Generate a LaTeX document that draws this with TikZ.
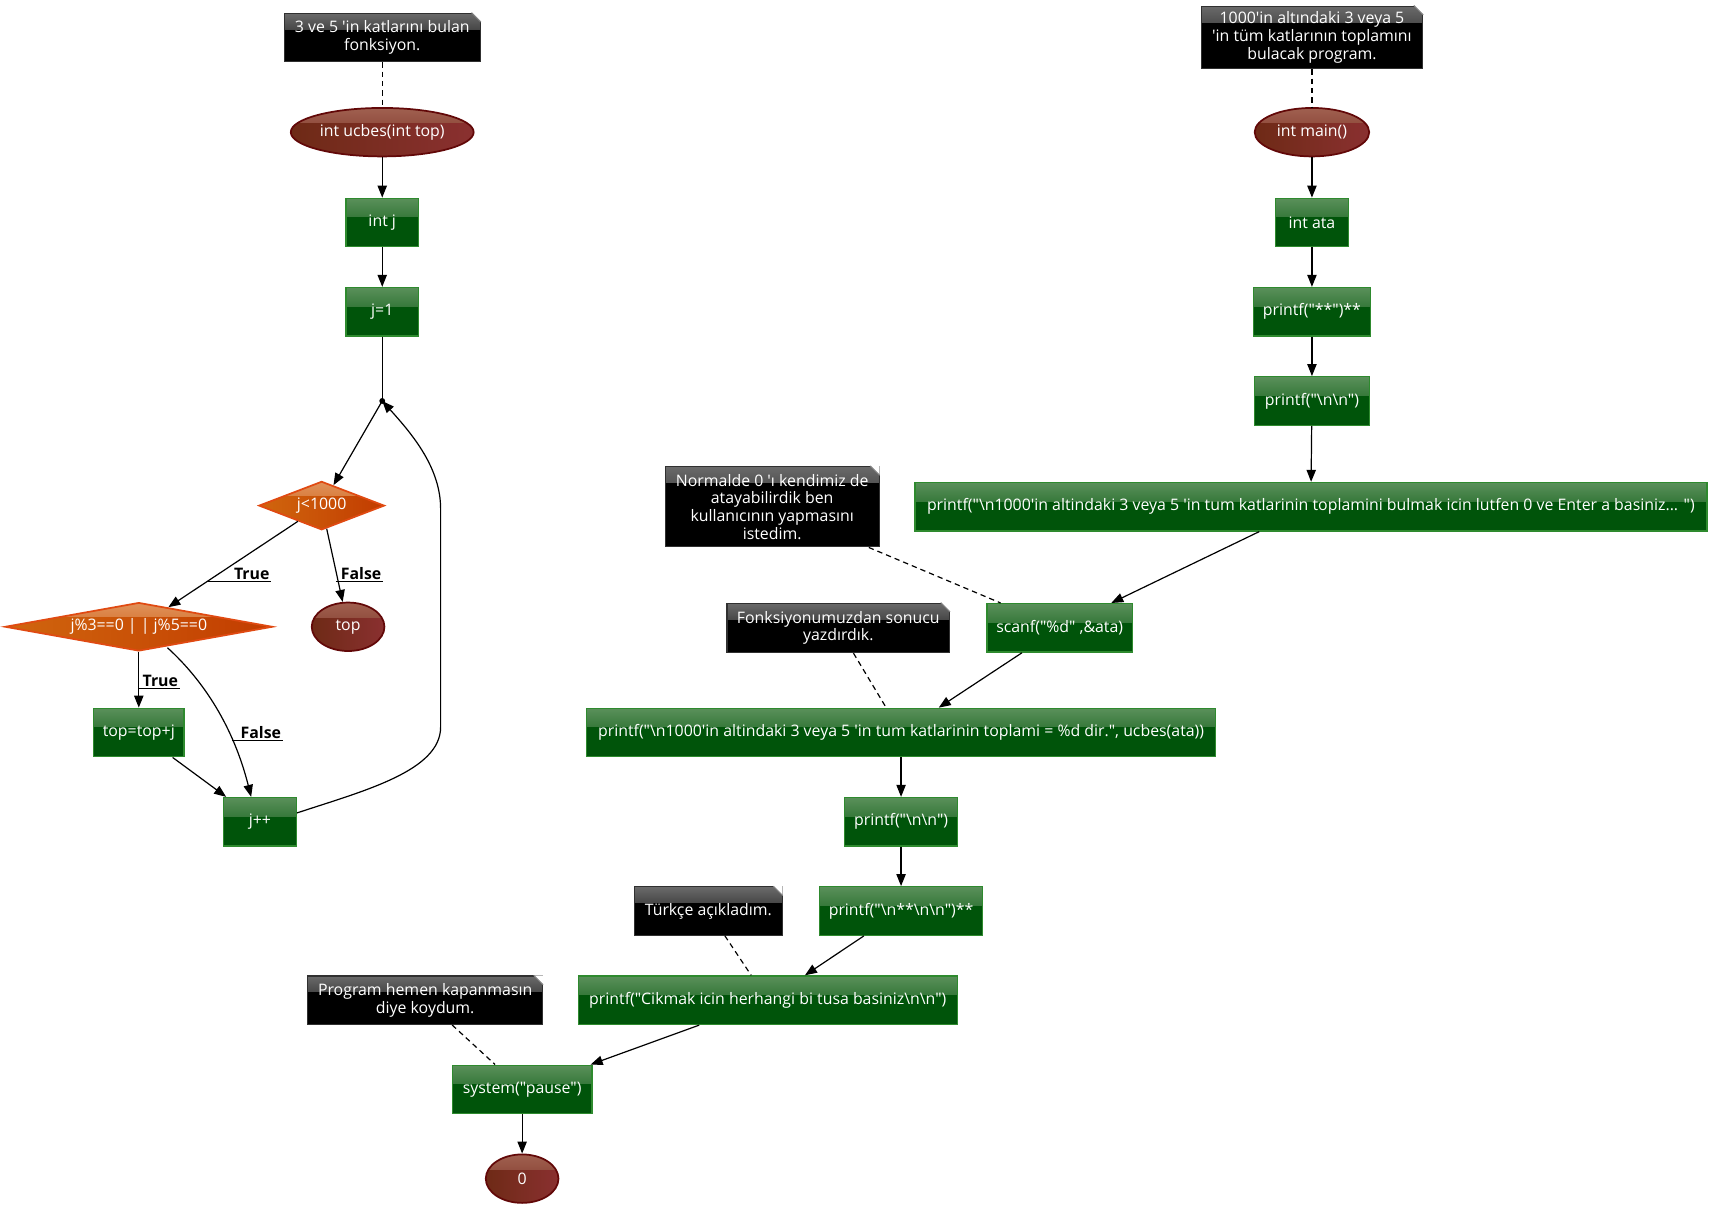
\documentclass[tikz,border=0pt]{standalone}
\usepackage{fontspec}
\setmainfont{Open Sans}[Ligatures=TeXOff]
\usetikzlibrary{shapes.geometric,arrows.meta,calc}
\definecolor{grnfill}{HTML}{00540A}
\definecolor{grnhi}{HTML}{5A905A}
\definecolor{grnline}{HTML}{2E8A2E}
\definecolor{ellL}{HTML}{6E2A16}
\definecolor{ellR}{HTML}{8A3030}
\definecolor{ellhi}{HTML}{A06050}
\definecolor{ellline}{HTML}{620808}
\definecolor{dmL}{HTML}{D0660E}
\definecolor{dmR}{HTML}{C23C00}
\definecolor{dmhi}{HTML}{E0925A}
\definecolor{dmline}{HTML}{E04A12}
\definecolor{notehi}{HTML}{6A6A6A}
\definecolor{noteline}{HTML}{303030}
\newcommand{\bsl}{\textbackslash{}}
\newcommand{\mknote}[6]{%
  \node[notebox, sz={#4}{#5}] (#1) at (#2,#3) {#6};
  \fill[white] ([xshift=-7pt]#1.north east) -- (#1.north east) -- ([yshift=-7pt]#1.north east) -- cycle;
  \draw[notefold] ([xshift=-7pt]#1.north east) -- ([yshift=-7pt]#1.north east);
}
\begin{document}
\begin{tikzpicture}[x=0.8262pt,y=-0.8262pt,
  font=\fontsize{11.9}{13.2}\selectfont,
  sz/.style 2 args={minimum width=#1*0.8262pt, minimum height=#2*0.8262pt, inner sep=0pt},
  box/.style={rectangle, draw=grnline, line width=1pt, fill=grnfill, text=white,
    path picture={\shade[top color=grnhi, bottom color=grnfill]
      (path picture bounding box.north west) rectangle ([yshift=-14pt]path picture bounding box.north east);}},
  term/.style={ellipse, draw=ellline, line width=1.3pt, left color=ellL, right color=ellR, text=white,
    path picture={\shade[top color=ellhi, bottom color=ellL!70!ellR]
      (path picture bounding box.north west) rectangle ([yshift=-11pt]path picture bounding box.north east);}},
  cond/.style={diamond, draw=dmline, line width=1.3pt, left color=dmL, right color=dmR, text=white,
    path picture={\shade[top color=dmhi, bottom color=dmL!60!dmR]
      (path picture bounding box.north west) rectangle ([yshift=-10pt]path picture bounding box.north east);}},
  notebox/.style={rectangle, draw=noteline, line width=0.8pt, fill=black, text=white, align=center,
    path picture={\shade[top color=notehi, bottom color=black]
      (path picture bounding box.north west) rectangle ([yshift=-12pt]path picture bounding box.north east);}},
  notefold/.style={draw=gray, line width=0.8pt},
  arr/.style={draw=black, line width=0.9pt, -{Triangle[length=9pt,width=7pt]}},
  plain/.style={draw=black, line width=0.9pt},
  notelink/.style={draw=black, line width=0.9pt, dash pattern=on 4pt off 3pt},
  lbl/.style={font=\fontsize{11.9}{13}\selectfont\bfseries, text=black, inner sep=1pt, anchor=south west},
  ul/.style={draw=black, line width=0.9pt},
]
\useasboundingbox (0,0) rectangle (1556,1102);

% ---------- left: function ----------
\mknote{n1}{347}{34}{178}{44}{3 ve 5 'in katlarını bulan\\fonksiyon.}
\node[term, sz={166}{44}] (ucbes) at (347,120) {int ucbes(int top)};
\node[box, sz={66}{44}] (intj) at (347,202) {int j};
\node[box, sz={66}{44}] (j1) at (347,283) {j=1};
\coordinate (junc) at (347,364);
\fill[black] (junc) circle (2.2pt);
\node[cond, sz={114}{44}, aspect=2.6] (jlt) at (292,459) {j<1000};
\node[cond, sz={243}{44}, aspect=5.5] (jmod) at (126,569) {j\%3==0 | | j\%5==0};
\node[term, sz={66}{44}] (top) at (316,569) {top};
\node[box, sz={82}{44}] (topadd) at (126,665) {top=top+j};
\node[box, sz={66}{44}] (jinc) at (236,746) {j++};

\draw[notelink] (n1) -- (ucbes);
\draw[arr] (ucbes) -- (intj);
\draw[arr] (intj) -- (j1);
\draw[plain] (j1) -- (junc);
\draw[arr] (junc) -- (jlt);
\draw[arr] (jlt) -- (jmod);
\draw[arr] (jlt) -- (top);
\draw[arr] (jmod) -- (topadd);
\draw[arr] (topadd) -- (jinc);
\draw[arr] ($(jmod.center)+(26,19)$) .. controls (185,618) and (212,660) .. ($(jinc.north)+(-8,0)$);
\draw[arr] ($(jinc.east)+(0,-8)$) .. controls (330,718) and (400,700) .. (400,660)
   -- (400,462) .. controls (400,425) and (375,395) .. (junc);

\node[lbl] (lT1) at (211,528) {True};
\coordinate (uT1) at (189,528);
\draw[ul] (uT1) -- (lT1.south east);
\node[lbl] (lF1) at (308,528) {False};
\coordinate (uF1) at (305,528);
\draw[ul] (uF1) -- (lF1.south east);
\node[lbl] (lT2) at (128,625) {True};
\coordinate (uT2) at (126,625);
\draw[ul] (uT2) -- (lT2.south east);
\node[lbl] (lF2) at (217,672) {False};
\coordinate (uF2) at (211,672);
\draw[ul] (uF2) -- (lF2.south east);

% ---------- right: main ----------
\mknote{n2}{1191}{34}{201}{57}{1000'in altındaki 3 veya 5\\'in tüm katlarının toplamını\\bulacak program.}
\node[term, sz={104}{44}] (main) at (1191,120) {int main()};
\node[box, sz={66}{44}] (ata) at (1191,202) {int ata};
\node[box, sz={106}{44}] (p1) at (1191,283) {printf("**")**};
\node[box, sz={104}{44}] (p2) at (1191,364) {printf("\bsl n\bsl n")};
\node[box, sz={719}{44}] (p3) at (1190,460) {printf("\bsl n1000'in altindaki 3 veya 5 'in tum katlarinin toplamini bulmak icin lutfen 0 ve Enter a basiniz... ")};
\mknote{n3}{701}{460}{194}{73}{Normalde 0 'ı kendimiz de\\atayabilirdik ben\\kullanıcının yapmasını\\istedim.}
\node[box, sz={132}{44}] (scanf) at (962,570) {scanf("\%d" ,\&ata)};
\mknote{n4}{761}{570}{202}{45}{Fonksiyonumuzdan sonucu\\yazdırdık.}
\node[box, sz={571}{44}] (p4) at (818,665) {printf("\bsl n1000'in altindaki 3 veya 5 'in tum katlarinin toplami = \%d dir.", ucbes(ata))};
\node[box, sz={103}{44}] (p5) at (818,746) {printf("\bsl n\bsl n")};
\node[box, sz={148}{44}] (p6) at (818,827) {printf("\bsl n**\bsl n\bsl n")**};
\mknote{n5}{643}{827}{134}{44}{Türkçe açıkladım.}
\node[box, sz={344}{44}] (p7) at (697,908) {printf("Cikmak icin herhangi bi tusa basiniz\bsl n\bsl n")};
\mknote{n6}{386}{908}{213}{44}{Program hemen kapanmasın\\diye koydum.}
\node[box, sz={127}{44}] (sys) at (474,989) {system("pause")};
\node[term, sz={66}{44}] (zero) at (474,1070) {0};

\draw[notelink] (n2) -- (main);
\draw[arr] (main) -- (ata);
\draw[arr] (ata) -- (p1);
\draw[arr] (p1) -- (p2);
\draw[arr] (p2) -- (p3);
\draw[arr] (p3) -- (scanf);
\draw[notelink] (n3) -- (scanf);
\draw[arr] (scanf) -- (p4);
\draw[notelink] (n4) -- (p4);
\draw[arr] (p4) -- (p5);
\draw[arr] (p5) -- (p6);
\draw[arr] (p6) -- (p7);
\draw[notelink] (n5) -- (p7);
\draw[arr] (p7) -- (sys);
\draw[notelink] (n6) -- (sys);
\draw[arr] (sys) -- (zero);
\end{tikzpicture}
\end{document}
